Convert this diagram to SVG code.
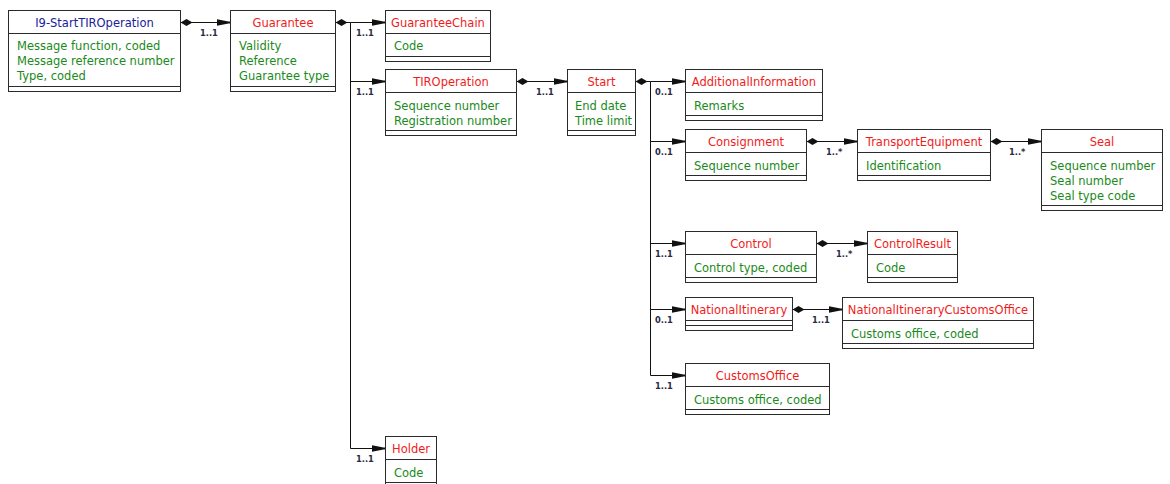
<svg xmlns="http://www.w3.org/2000/svg" width="1170" height="484" viewBox="0 0 1170 484">
<style>
.box{fill:#fff;stroke:#2a2a2a;stroke-width:1}
.sep{stroke:#2a2a2a;stroke-width:1;fill:none}
.t{font-family:"DejaVu Sans",Tahoma,sans-serif;font-size:11.5px;fill:#f01c1c;text-anchor:middle}
.tb{fill:#20209a}
.a{font-family:"DejaVu Sans",Tahoma,sans-serif;font-size:11.5px;fill:#1a8a1a}
.m{font-family:"DejaVu Sans",Tahoma,sans-serif;font-size:8.3px;font-weight:bold;fill:#2a2a44}
.c{fill:none;stroke:#111;stroke-width:1}
.ca{marker-end:url(#arr)}
.cd{marker-start:url(#dia)}
</style>
<defs>
<marker id="dia" markerUnits="userSpaceOnUse" markerWidth="13" markerHeight="9" viewBox="0 -4.5 13 9" refX="0" refY="0" orient="auto"><path d="M0,0 L6,-3.6 L12,0 L6,3.6 Z" fill="#111"/></marker>
<marker id="arr" markerUnits="userSpaceOnUse" markerWidth="14" markerHeight="9" viewBox="0 -4.5 14 9" refX="14" refY="0" orient="auto"><path d="M0,-3.4 L12,-0.9 L14,-0.9 L14,0.9 L12,0.9 L0,3.4 Z" fill="#111"/></marker>
</defs>
<rect width="1170" height="484" fill="#fff"/>

<g id="connectors">
<path class="c cd ca" d="M180.5,22.5 H230.5"/>
<path class="c cd" d="M335.5,22.5 H350.5 V448.5"/>
<path class="c ca" d="M350.5,22.5 H385.5"/>
<path class="c ca" d="M350.5,81.5 H385.5"/>
<path class="c ca" d="M350.5,448.5 H385.5"/>
<path class="c cd ca" d="M516.5,81.5 H567.5"/>
<path class="c cd" d="M635.5,81.5 H650.5 V375.5"/>
<path class="c ca" d="M650.5,81.5 H685.5"/>
<path class="c ca" d="M650.5,141.5 H685.5"/>
<path class="c ca" d="M650.5,243.5 H685.5"/>
<path class="c ca" d="M650.5,309.5 H685.5"/>
<path class="c ca" d="M650.5,375.5 H685.5"/>
<path class="c cd ca" d="M806.5,141.5 H857.5"/>
<path class="c cd ca" d="M990.5,141.5 H1041.5"/>
<path class="c cd ca" d="M816.5,243.5 H867.5"/>
<path class="c cd ca" d="M792.5,309.5 H842.5"/>
<text class="m" x="200" y="36">1..1</text>
<text class="m" x="356" y="36">1..1</text>
<text class="m" x="356" y="95">1..1</text>
<text class="m" x="356" y="462">1..1</text>
<text class="m" x="536" y="95">1..1</text>
<text class="m" x="655" y="95">0..1</text>
<text class="m" x="655" y="155">0..1</text>
<text class="m" x="655" y="257">1..1</text>
<text class="m" x="655" y="323">0..1</text>
<text class="m" x="655" y="389">1..1</text>
<text class="m" x="826" y="155">1..*</text>
<text class="m" x="1009" y="155">1..*</text>
<text class="m" x="836" y="257">1..*</text>
<text class="m" x="812" y="323">1..1</text>
</g>

<g id="I9-StartTIROperation">
<rect class="box" x="8.5" y="10.5" width="172" height="81"/>
<path class="sep" d="M8.5,33.5 H180.5 M8.5,86.5 H180.5"/>
<text class="t tb" x="94.5" y="27">I9-StartTIROperation</text>
<text class="a" x="17" y="50">Message function, coded</text>
<text class="a" x="17" y="65">Message reference number</text>
<text class="a" x="17" y="80">Type, coded</text>
</g>

<g id="Guarantee">
<rect class="box" x="230.5" y="10.5" width="105" height="81"/>
<path class="sep" d="M230.5,33.5 H335.5 M230.5,86.5 H335.5"/>
<text class="t" x="283" y="27">Guarantee</text>
<text class="a" x="239" y="50">Validity</text>
<text class="a" x="239" y="65">Reference</text>
<text class="a" x="239" y="80">Guarantee type</text>
</g>

<g id="GuaranteeChain">
<rect class="box" x="385.5" y="10.5" width="105" height="51"/>
<path class="sep" d="M385.5,33.5 H490.5 M385.5,56.5 H490.5"/>
<text class="t" x="438" y="27">GuaranteeChain</text>
<text class="a" x="394" y="50">Code</text>
</g>

<g id="TIROperation">
<rect class="box" x="385.5" y="69.5" width="131" height="66"/>
<path class="sep" d="M385.5,92.5 H516.5 M385.5,130.5 H516.5"/>
<text class="t" x="451" y="86">TIROperation</text>
<text class="a" x="394" y="110">Sequence number</text>
<text class="a" x="394" y="125">Registration number</text>
</g>

<g id="Start">
<rect class="box" x="567.5" y="69.5" width="68" height="66"/>
<path class="sep" d="M567.5,92.5 H635.5 M567.5,130.5 H635.5"/>
<text class="t" x="601.5" y="86">Start</text>
<text class="a" x="575" y="110">End date</text>
<text class="a" x="575" y="125">Time limit</text>
</g>

<g id="AdditionalInformation">
<rect class="box" x="685.5" y="69.5" width="137" height="51"/>
<path class="sep" d="M685.5,92.5 H822.5 M685.5,115.5 H822.5"/>
<text class="t" x="754" y="86">AdditionalInformation</text>
<text class="a" x="694" y="110">Remarks</text>
</g>

<g id="Consignment">
<rect class="box" x="685.5" y="129.5" width="121" height="51"/>
<path class="sep" d="M685.5,152.5 H806.5 M685.5,175.5 H806.5"/>
<text class="t" x="746" y="146">Consignment</text>
<text class="a" x="694" y="170">Sequence number</text>
</g>

<g id="TransportEquipment">
<rect class="box" x="857.5" y="129.5" width="133" height="51"/>
<path class="sep" d="M857.5,152.5 H990.5 M857.5,175.5 H990.5"/>
<text class="t" x="924" y="146">TransportEquipment</text>
<text class="a" x="866" y="170">Identification</text>
</g>

<g id="Seal">
<rect class="box" x="1041.5" y="129.5" width="121" height="81"/>
<path class="sep" d="M1041.5,152.5 H1162.5 M1041.5,205.5 H1162.5"/>
<text class="t" x="1102" y="146">Seal</text>
<text class="a" x="1050" y="170">Sequence number</text>
<text class="a" x="1050" y="185">Seal number</text>
<text class="a" x="1050" y="200">Seal type code</text>
</g>

<g id="Control">
<rect class="box" x="685.5" y="231.5" width="131" height="51"/>
<path class="sep" d="M685.5,254.5 H816.5 M685.5,277.5 H816.5"/>
<text class="t" x="751" y="248">Control</text>
<text class="a" x="694" y="272">Control type, coded</text>
</g>

<g id="ControlResult">
<rect class="box" x="867.5" y="231.5" width="90" height="51"/>
<path class="sep" d="M867.5,254.5 H957.5 M867.5,277.5 H957.5"/>
<text class="t" x="912.5" y="248">ControlResult</text>
<text class="a" x="876" y="272">Code</text>
</g>

<g id="NationalItinerary">
<rect class="box" x="685.5" y="297.5" width="107" height="33"/>
<path class="sep" d="M685.5,320.5 H792.5 M685.5,325.5 H792.5"/>
<text class="t" x="739" y="314">NationalItinerary</text>
</g>

<g id="NationalItineraryCustomsOffice">
<rect class="box" x="842.5" y="297.5" width="191" height="51"/>
<path class="sep" d="M842.5,320.5 H1033.5 M842.5,343.5 H1033.5"/>
<text class="t" x="938" y="314">NationalItineraryCustomsOffice</text>
<text class="a" x="851" y="338">Customs office, coded</text>
</g>

<g id="CustomsOffice">
<rect class="box" x="685.5" y="363.5" width="144" height="51"/>
<path class="sep" d="M685.5,386.5 H829.5 M685.5,409.5 H829.5"/>
<text class="t" x="757.5" y="380">CustomsOffice</text>
<text class="a" x="694" y="404">Customs office, coded</text>
</g>

<g id="Holder">
<rect class="box" x="385.5" y="436.5" width="51" height="51"/>
<path class="sep" d="M385.5,459.5 H436.5 M385.5,482.5 H436.5"/>
<text class="t" x="411" y="453">Holder</text>
<text class="a" x="394" y="477">Code</text>
</g>
</svg>
